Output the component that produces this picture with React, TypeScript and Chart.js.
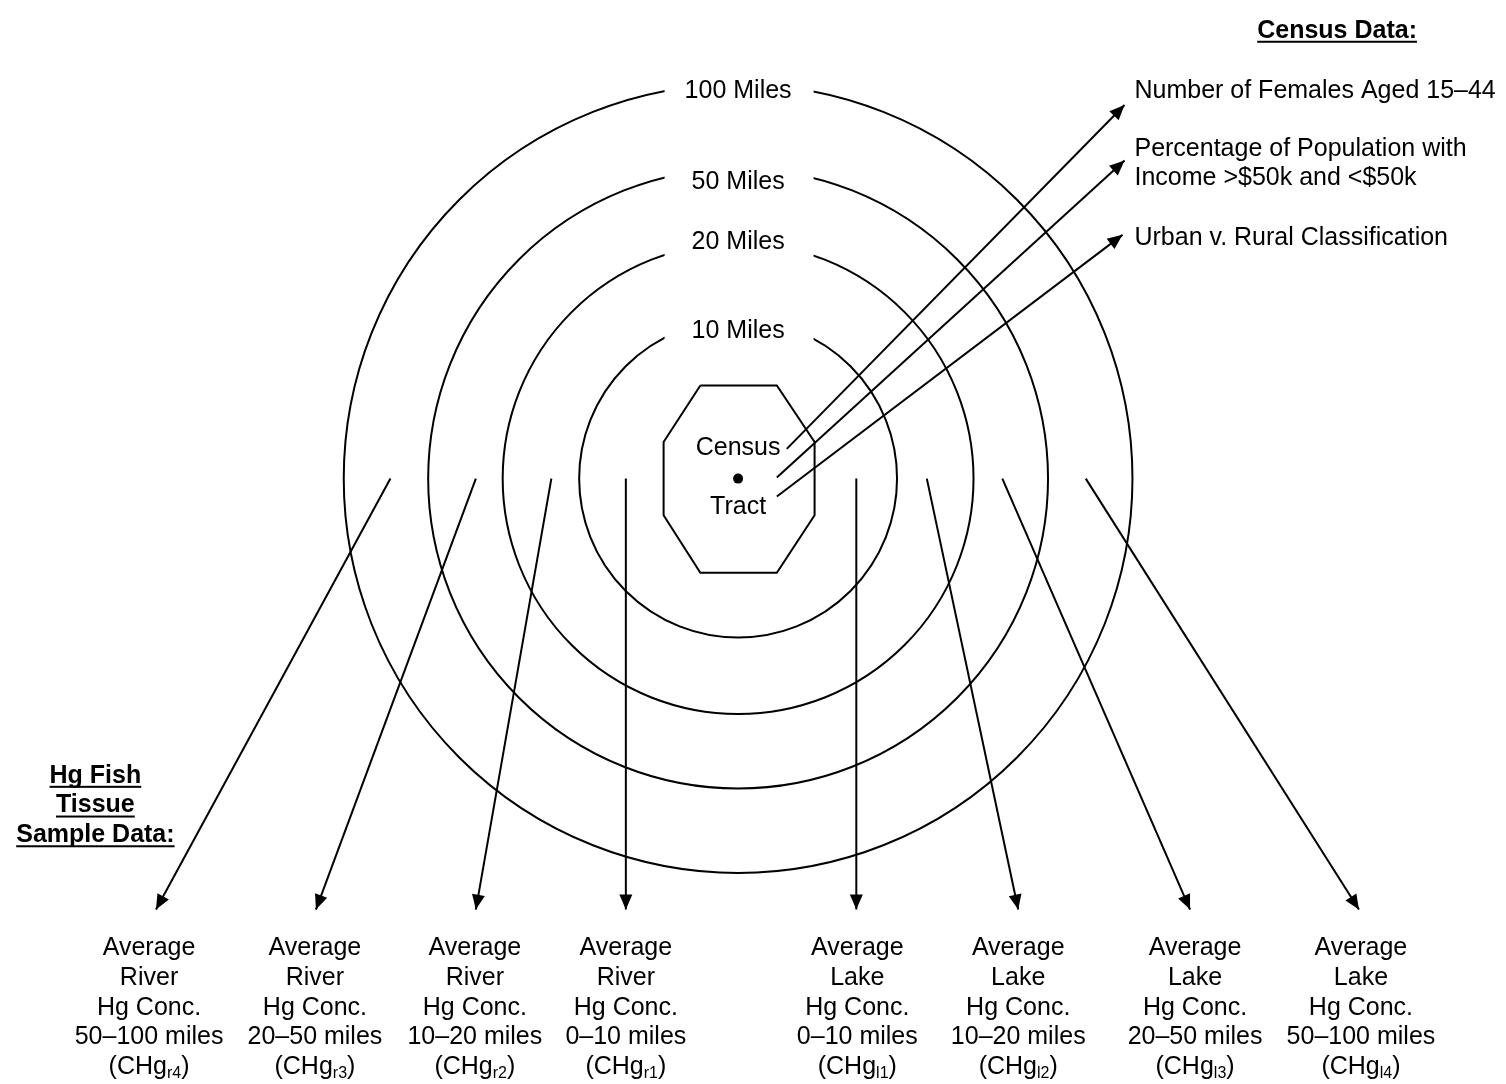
import React, { useEffect, useRef } from "react";
import { Chart, registerables } from "chart.js";

Chart.register(...registerables);

// ---- Diagram data (diagram units = layout units of the figure) ----
const ringLabels = ["10 Miles", "20 Miles", "50 Miles", "100 Miles"];
const ringRadii = [160, 237, 312, 397];
const ringLabelY = [329, 239, 179, 87];
const tractCenter = [738, 478];
const tractWords = ["Census", "Tract"];
const tractWordY = [447, 507];

const octagonX = [700, 777, 815, 815, 777, 700, 663, 663, 700];
const octagonY = [384, 384, 441, 515, 573, 573, 515, 441, 384];

const censusTitle = "Census Data:";
const censusLines = [
  "Number of Females Aged 15–44",
  "Percentage of Population with",
  "Income >$50k and <$50k",
  "Urban v. Rural Classification",
];
const censusLineY = [87, 145, 175, 235];
const censusArrowStartX = [787, 777, 777];
const censusArrowStartY = [448, 477, 496];
const censusArrowEndX = [1127, 1127, 1125];
const censusArrowEndY = [101, 157, 232];

const fishTitle = ["Hg Fish", "Tissue", "Sample Data:"];
const fishTitleY = [778, 808, 838];

const sampleWater = ["River", "River", "River", "River", "Lake", "Lake", "Lake", "Lake"];
const sampleRange = [
  "50–100 miles",
  "20–50 miles",
  "10–20 miles",
  "0–10 miles",
  "0–10 miles",
  "10–20 miles",
  "20–50 miles",
  "50–100 miles",
];
const sampleSub = ["r4", "r3", "r2", "r1", "l1", "l2", "l3", "l4"];
const sampleArrowStartX = [388, 474, 550, 625, 857, 928, 1004, 1088];
const sampleArrowEndX = [152, 313, 474, 625, 857, 1020, 1193, 1363];
const sampleLabelX = [145, 312, 473, 625, 858, 1020, 1198, 1365];
const sampleArrowStartY = 478;
const sampleArrowEndY = 913;
const sampleLabelTopY = 952;

const W = 1506;
const H = 1084;
const FONT = '"Liberation Sans", Arial, Helvetica, sans-serif';

export default function App() {
  const ref = useRef<HTMLCanvasElement | null>(null);

  useEffect(() => {
    const canvas = ref.current;
    if (!canvas) return;

    const arrowDatasets: any[] = [];
    censusArrowStartX.forEach((sx, i) => {
      arrowDatasets.push({
        data: [
          { x: sx, y: censusArrowStartY[i] },
          { x: censusArrowEndX[i], y: censusArrowEndY[i] },
        ],
        showLine: true,
        borderColor: "#000",
        borderWidth: 2,
        pointRadius: 0,
        arrow: true,
      });
    });
    sampleArrowStartX.forEach((sx, i) => {
      arrowDatasets.push({
        data: [
          { x: sx, y: sampleArrowStartY },
          { x: sampleArrowEndX[i], y: sampleArrowEndY },
        ],
        showLine: true,
        borderColor: "#000",
        borderWidth: 2,
        pointRadius: 0,
        arrow: true,
      });
    });

    const datasets: any[] = [
      {
        data: octagonX.map((x, i) => ({ x, y: octagonY[i] })),
        showLine: true,
        borderColor: "#000",
        borderWidth: 2,
        pointRadius: 0,
        borderJoinStyle: "miter",
      },
      {
        data: [{ x: tractCenter[0], y: tractCenter[1] }],
        pointRadius: 5,
        backgroundColor: "#000",
        borderColor: "#000",
        borderWidth: 0,
      },
      ...arrowDatasets,
    ];

    const diagramPlugin = {
      id: "diagram",
      beforeDatasetsDraw(chart: any) {
        const ctx = chart.ctx as CanvasRenderingContext2D;
        const xs = chart.scales.x;
        const ys = chart.scales.y;
        const cx = xs.getPixelForValue(tractCenter[0]);
        const cy = ys.getPixelForValue(tractCenter[1]);
        ctx.save();
        ctx.strokeStyle = "#000";
        ctx.lineWidth = 2;
        ringRadii.forEach((r) => {
          const rp = xs.getPixelForValue(tractCenter[0] + r) - cx;
          ctx.beginPath();
          ctx.arc(cx, cy, rp, 0, Math.PI * 2);
          ctx.stroke();
        });
        // ring labels with white gaps
        ctx.font = `25px ${FONT}`;
        ctx.textAlign = "center";
        ctx.textBaseline = "middle";
        ringLabels.forEach((lab, i) => {
          const ly = ys.getPixelForValue(ringLabelY[i]);
          const x0 = xs.getPixelForValue(663);
          const x1 = xs.getPixelForValue(815);
          ctx.fillStyle = "#fff";
          ctx.fillRect(x0 + 1, ly - 17, x1 - x0 - 2, 34);
          ctx.fillStyle = "#000";
          ctx.fillText(lab, cx, ly);
        });
        ctx.restore();
      },
      afterDatasetsDraw(chart: any) {
        const ctx = chart.ctx as CanvasRenderingContext2D;
        const xs = chart.scales.x;
        const ys = chart.scales.y;
        ctx.save();
        // arrowheads
        chart.data.datasets.forEach((ds: any) => {
          if (!ds.arrow) return;
          const a = ds.data[0];
          const b = ds.data[1];
          const ax = xs.getPixelForValue(a.x);
          const ay = ys.getPixelForValue(a.y);
          const bx = xs.getPixelForValue(b.x);
          const by = ys.getPixelForValue(b.y);
          const ang = Math.atan2(by - ay, bx - ax);
          const len = 15;
          const hw = 6.5;
          const baseX = bx - len * Math.cos(ang);
          const baseY = by - len * Math.sin(ang);
          ctx.fillStyle = "#000";
          ctx.beginPath();
          ctx.moveTo(bx, by);
          ctx.lineTo(baseX + hw * Math.sin(ang), baseY - hw * Math.cos(ang));
          ctx.lineTo(baseX - hw * Math.sin(ang), baseY + hw * Math.cos(ang));
          ctx.closePath();
          ctx.fill();
        });

        ctx.fillStyle = "#000";
        ctx.strokeStyle = "#000";
        ctx.textBaseline = "middle";

        // tract words
        ctx.font = `25px ${FONT}`;
        ctx.textAlign = "center";
        tractWords.forEach((w, i) => {
          ctx.fillText(w, xs.getPixelForValue(tractCenter[0]), ys.getPixelForValue(tractWordY[i]));
        });

        const underlined = (text: string, x: number, y: number) => {
          ctx.fillText(text, x, y);
          const w = ctx.measureText(text).width;
          ctx.fillRect(x - w / 2, y + 10, w, 2);
        };

        // Census title
        ctx.font = `bold 25px ${FONT}`;
        ctx.textAlign = "center";
        underlined(censusTitle, xs.getPixelForValue(1341), ys.getPixelForValue(26));

        // census lines
        ctx.font = `25px ${FONT}`;
        ctx.textAlign = "left";
        censusLines.forEach((t, i) => {
          ctx.fillText(t, xs.getPixelForValue(1137), ys.getPixelForValue(censusLineY[i]));
        });

        // fish title
        ctx.font = `bold 25px ${FONT}`;
        ctx.textAlign = "center";
        fishTitle.forEach((t, i) => {
          underlined(t, xs.getPixelForValue(91), ys.getPixelForValue(fishTitleY[i]));
        });

        // sample labels
        sampleLabelX.forEach((lx, i) => {
          const px = xs.getPixelForValue(lx);
          const rows = ["Average", sampleWater[i], "Hg Conc.", sampleRange[i]];
          ctx.font = `25px ${FONT}`;
          ctx.textAlign = "center";
          rows.forEach((r, k) => {
            ctx.fillText(r, px, ys.getPixelForValue(sampleLabelTopY + 30 * k));
          });
          // (CHg_sub)
          const y5 = ys.getPixelForValue(sampleLabelTopY + 120);
          ctx.textAlign = "left";
          ctx.font = `25px ${FONT}`;
          const w1 = ctx.measureText("(CHg").width;
          const w3 = ctx.measureText(")").width;
          ctx.font = `16px ${FONT}`;
          const w2 = ctx.measureText(sampleSub[i]).width;
          let x0 = px - (w1 + w2 + w3) / 2;
          ctx.font = `25px ${FONT}`;
          ctx.fillText("(CHg", x0, y5);
          ctx.font = `16px ${FONT}`;
          ctx.fillText(sampleSub[i], x0 + w1, y5 + 6);
          ctx.font = `25px ${FONT}`;
          ctx.fillText(")", x0 + w1 + w2, y5);
        });
        ctx.restore();
      },
    };

    const chart = new Chart(canvas, {
      type: "scatter",
      data: { datasets },
      options: {
        animation: false,
        responsive: false,
        devicePixelRatio: 1,
        events: [],
        layout: { padding: 0 },
        plugins: { legend: { display: false }, tooltip: { enabled: false } },
        scales: {
          x: { type: "linear", min: 0, max: W, display: false },
          y: { type: "linear", min: 0, max: H, reverse: true, display: false },
        },
      },
      plugins: [diagramPlugin],
    } as any);

    return () => chart.destroy();
  }, []);

  return (
    <div style={{ position: "absolute", left: 0, top: 0, width: W, height: H, background: "#fff" }}>
      <canvas ref={ref} width={W} height={H} style={{ display: "block", width: W, height: H }} />
    </div>
  );
}
